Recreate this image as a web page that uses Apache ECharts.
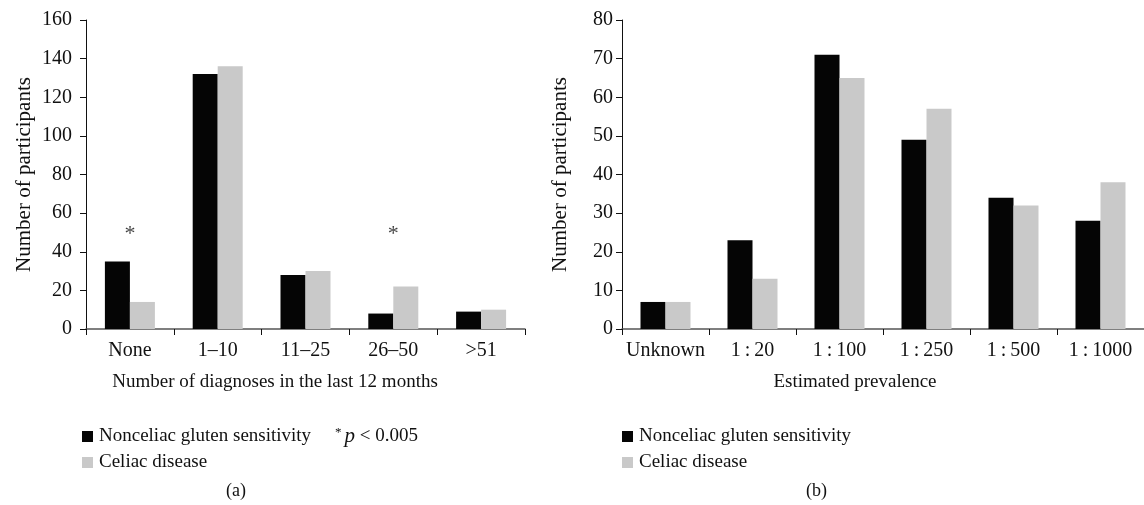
<!DOCTYPE html>
<html>
<head>
<meta charset="utf-8">
<script src="https://cdn.jsdelivr.net/npm/echarts@6/dist/echarts.min.js"></script>
<style>
html,body{margin:0;padding:0;background:#fff;}
#chart{width:1144px;height:505px;}
</style>
</head>
<body>
<div id="chart"></div>
<script>
// ---- data ----
const seriesNames = ['Nonceliac gluten sensitivity', 'Celiac disease'];
const catsA = ['None', '1\u201310', '11\u201325', '26\u201350', '>51'];
const ncgsA = [35, 132, 28, 8, 9];
const celiacA = [14, 136, 30, 22, 10];
const sigA = [['None', 49], ['26\u201350', 49]];
const yTicksA = {min: 0, max: 160, interval: 20};

const catsB = ['Unknown', '1\u2009:\u200920', '1\u2009:\u2009100', '1\u2009:\u2009250', '1\u2009:\u2009500', '1\u2009:\u20091000'];
const ncgsB = [7, 23, 71, 49, 34, 28];
const celiacB = [7, 13, 65, 57, 32, 38];
const yTicksB = {min: 0, max: 80, interval: 10};

const titleXA = 'Number of diagnoses in the last 12 months';
const titleXB = 'Estimated prevalence';
const titleY = 'Number of participants';

// ---- styling ----
const FONT = 'Liberation Serif';
const BLACK = '#050505';
const GRAY = '#c9c9c9';

function xAxis(idx, cats, name, shift) {
  return {
    type: 'category', gridIndex: idx, data: cats,
    name: name, nameLocation: 'middle', nameGap: 44,
    nameTextStyle: {fontFamily: FONT, fontSize: 19, color: '#111', padding: [0, shift, 0, 0]},
    axisLine: {lineStyle: {color: '#555', width: 1.5}},
    axisTick: {show: true, length: 6, alignWithLabel: false, lineStyle: {color: '#111'}},
    axisLabel: {fontFamily: FONT, fontSize: 20, color: '#111', margin: 12, interval: 0},
    splitLine: {show: false}
  };
}
function yAxis(idx, t, margin) {
  return {
    type: 'value', gridIndex: idx, min: t.min, max: t.max, interval: t.interval,
    name: titleY, nameLocation: 'middle', nameGap: 51, nameRotate: 90,
    nameTextStyle: {fontFamily: FONT, fontSize: 21, color: '#111'},
    axisLine: {show: true, lineStyle: {color: '#111', width: 1}},
    axisTick: {show: true, length: 6, lineStyle: {color: '#111'}},
    axisLabel: {fontFamily: FONT, fontSize: 20, color: '#111', margin: margin},
    splitLine: {show: false}
  };
}
function bar(name, idx, data, color) {
  return {
    name: name, type: 'bar', xAxisIndex: idx, yAxisIndex: idx, data: data,
    barWidth: 25, barGap: '0%', itemStyle: {color: color}, animation: false
  };
}

const legendBase = {
  orient: 'vertical', icon: 'rect', itemWidth: 11, itemHeight: 11, itemGap: 7,
  selectedMode: false,
  formatter: '{t|{name}}',
  textStyle: {
    fontFamily: FONT, fontSize: 19, color: '#111',
    rich: {t: {fontFamily: FONT, fontSize: 19, color: '#111', padding: [0, 0, 0, 1]}}
  },
  data: seriesNames
};

const chart = echarts.init(document.getElementById('chart'), null, {renderer: 'canvas'});
chart.setOption({
  backgroundColor: '#fff',
  animation: false,
  textStyle: {fontFamily: FONT},
  grid: [
    {left: 86, top: 20, width: 439, height: 309},
    {left: 622, top: 20, width: 525, height: 309}
  ],
  xAxis: [xAxis(0, catsA, titleXA, 61), xAxis(1, catsB, titleXB, 56)],
  yAxis: [yAxis(0, yTicksA, 14), yAxis(1, yTicksB, 9)],
  legend: [
    Object.assign({}, legendBase, {left: 77, top: 422}),
    Object.assign({}, legendBase, {left: 617, top: 422})
  ],
  series: [
    bar(seriesNames[0], 0, ncgsA, BLACK),
    bar(seriesNames[1], 0, celiacA, GRAY),
    bar(seriesNames[0], 1, ncgsB, BLACK),
    bar(seriesNames[1], 1, celiacB, GRAY),
    {
      name: 'sig', type: 'scatter', xAxisIndex: 0, yAxisIndex: 0,
      data: sigA, symbolSize: 0, silent: true,
      label: {show: true, position: 'inside', formatter: '*', fontFamily: FONT, fontSize: 22, color: '#111'}
    }
  ],
  graphic: [
    {
      type: 'text', left: 335, top: 426,
      style: {
        text: '{s|*}{i|p} < 0.005',
        fontFamily: FONT, fontSize: 19, fill: '#111',
        rich: {
          s: {fontFamily: FONT, fontSize: 13, verticalAlign: 'top', padding: [0, 3, 8, 0]},
          i: {fontFamily: FONT, fontSize: 21, fontStyle: 'italic'}
        }
      }
    },
    {type: 'text', left: 226, top: 482, style: {text: '(a)', fontFamily: FONT, fontSize: 18, fill: '#111'}},
    {type: 'text', left: 806, top: 482, style: {text: '(b)', fontFamily: FONT, fontSize: 18, fill: '#111'}}
  ]
});
</script>
</body>
</html>
